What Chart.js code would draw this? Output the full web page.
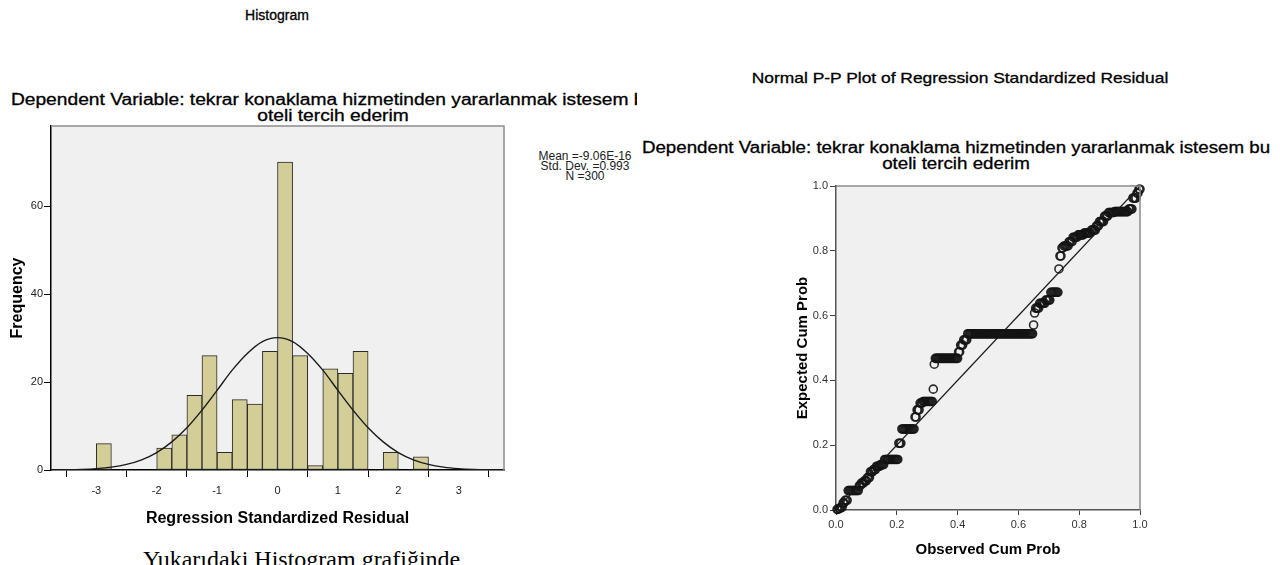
<!DOCTYPE html>
<html>
<head>
<meta charset="utf-8">
<script src="https://cdn.jsdelivr.net/npm/chart.js@4.4.0/dist/chart.umd.min.js"></script>
<style>
  html, body { margin: 0; padding: 0; background: #fff; }
  body { width: 1280px; height: 565px; position: relative; overflow: hidden;
         font-family: "Liberation Sans", Arial, sans-serif; color: #000; }
  .t { position: absolute; white-space: nowrap; text-align: center; -webkit-text-stroke: 0.3px #000; }
  .clip { position: absolute; overflow: hidden; }
  canvas { position: absolute; }
</style>
</head>
<body>

<!-- histogram titles -->
<div class="t" style="left:277px; top:7px; font-size:14px; transform:translateX(-50%);">Histogram</div>
<div class="clip" style="left:0; top:90px; width:637px; height:40px;">
  <div class="t" style="left:333px; top:2px; font-size:16px; line-height:16px; transform:translateX(-50%) scaleX(1.2);">Dependent Variable: tekrar konaklama hizmetinden yararlanmak istesem bu<br>oteli tercih ederim</div>
</div>
<div class="t" style="left:585px; top:151px; font-size:12px; line-height:10px; color:#222; -webkit-text-stroke:0; transform:translateX(-50%);">Mean =-9.06E-16<br>Std. Dev. =0.993<br>N =300</div>

<!-- P-P titles -->
<div class="t" style="left:960px; top:69px; font-size:15px; transform:translateX(-50%) scaleX(1.16);">Normal P-P Plot of Regression Standardized Residual</div>
<div class="t" style="left:956px; top:140px; font-size:16px; line-height:16px; transform:translateX(-50%) scaleX(1.17);">Dependent Variable: tekrar konaklama hizmetinden yararlanmak istesem bu<br>oteli tercih ederim</div>

<div class="t" style="left:143px; top:546px; font-family:'Liberation Serif','Times New Roman',serif; font-size:24px; text-align:left; -webkit-text-stroke:0;">Yukarıdaki Histogram grafiğinde</div>

<canvas id="hist" width="560" height="414" style="left:0; top:116px;"></canvas>
<canvas id="pp" width="420" height="385" style="left:760px; top:176px;"></canvas>

<script>
// Histogram of standardized residuals (bin width 0.25)
const binWidth = 0.25;
const binStart = [-3.0, -2.0, -1.75, -1.5, -1.25, -1.0, -0.75, -0.5, -0.25, 0.0, 0.25, 0.5, 0.75, 1.0, 1.25, 1.75, 2.25];
const binCount = [6, 5, 8, 17, 26, 4, 16, 15, 27, 70, 26, 1, 23, 22, 27, 4, 3];

// Normal curve
const curveX = [-3.75, -3.5, -3.25, -3.0, -2.75, -2.5, -2.25, -2.0, -1.75, -1.5, -1.25, -1.0, -0.75, -0.5, -0.25,
                0.0, 0.25, 0.5, 0.75, 1.0, 1.25, 1.5, 1.75, 2.0, 2.25, 2.5, 2.75, 3.0, 3.25, 3.5, 3.75];
const curveY = [0.02, 0.06, 0.14, 0.31, 0.65, 1.27, 2.31, 3.97, 6.4, 9.6, 13.6, 18.1, 22.7, 26.5, 29.2,
                30.1, 29.2, 26.5, 22.7, 18.1, 13.6, 9.6, 6.4, 3.97, 2.31, 1.27, 0.65, 0.31, 0.14, 0.06, 0.02];

// P-P plot: expected cum prob levels and how many residuals share each level
const ppTotal = 300;
const ppExpected = [0.002, 0.005, 0.008, 0.022, 0.03, 0.06, 0.075, 0.083, 0.09, 0.1, 0.118, 0.125, 0.135, 0.14,
                    0.156, 0.206, 0.25, 0.287, 0.309, 0.33, 0.335, 0.373, 0.45, 0.468, 0.488, 0.509, 0.525,
                    0.544, 0.571, 0.608, 0.623, 0.638, 0.648, 0.672, 0.744, 0.784, 0.809, 0.815, 0.828, 0.842,
                    0.849, 0.855, 0.864, 0.877, 0.89, 0.907, 0.918, 0.921, 0.929, 0.963, 0.978, 0.99];
const ppCount = [2, 2, 2, 2, 3, 11, 2, 3, 3, 3, 3, 3, 4, 4,
                 14, 3, 13, 2, 3, 3, 10, 1, 1, 23, 2, 3, 4,
                 65, 1, 1, 4, 6, 5, 8, 1, 2, 2, 5, 4, 5,
                 6, 7, 5, 3, 5, 4, 6, 14, 4, 4, 2, 2];
const refLine = [0, 1];

const tickFont = { family: 'Liberation Sans, Arial, sans-serif', size: 11 };
const titleFont = { family: 'Liberation Sans, Arial, sans-serif', size: 16, weight: 'bold' };

// grey plot background and the top/right frame lines
const plotFrame = {
    id: 'plotFrame',
    beforeDraw(chart) {
        const a = chart.chartArea;
        const ctx = chart.ctx;
        ctx.save();
        ctx.fillStyle = '#f0f0f0';
        ctx.fillRect(a.left, a.top, a.right - a.left, a.bottom - a.top);
        ctx.restore();
    },
    afterDraw(chart) {
        const a = chart.chartArea;
        const ctx = chart.ctx;
        ctx.save();
        ctx.strokeStyle = '#8c8c8c';
        ctx.lineWidth = 1.5;
        ctx.beginPath();
        ctx.moveTo(a.left, a.top);
        ctx.lineTo(a.right, a.top);
        ctx.lineTo(a.right, a.bottom);
        ctx.stroke();
        ctx.restore();
    }
};

// Histogram
const barData = binStart.map((s, i) => ({ x: s + binWidth / 2, y: binCount[i] }));
const curveData = curveX.map((x, i) => ({ x: x, y: curveY[i] }));

new Chart(document.getElementById('hist'), {
    type: 'bar',
    data: {
        datasets: [
            {
                type: 'line',
                data: curveData,
                borderColor: '#1a1a1a',
                borderWidth: 1.4,
                pointRadius: 0,
                cubicInterpolationMode: 'monotone',
                fill: false,
                order: 0
            },
            {
                data: barData,
                backgroundColor: '#d3ce98',
                borderColor: '#2a2a2a',
                borderWidth: 1,
                borderSkipped: false,
                barPercentage: 1,
                categoryPercentage: 1,
                order: 1
            }
        ]
    },
    options: {
        responsive: false,
        animation: false,
        events: [],
        layout: { padding: { top: 10, right: 56, bottom: 0, left: 0 } },
        plugins: { legend: { display: false }, tooltip: { enabled: false } },
        scales: {
            x: {
                type: 'linear',
                min: -3.75,
                max: 3.75,
                offset: false,
                afterFit: (s) => { s.height = 60; },
                grid: { drawOnChartArea: false, drawTicks: true, tickLength: 7, color: '#000' },
                border: { display: true, color: '#000', width: 1.5 },
                ticks: { stepSize: 1, includeBounds: false, font: tickFont, color: '#222', padding: 7 },
                title: { display: true, text: 'Regression Standardized Residual', font: titleFont, color: '#000',
                         padding: { top: 4, bottom: 2 } }
            },
            y: {
                min: 0,
                max: 78.2,
                afterFit: (s) => { s.width = 51; },
                grid: { drawOnChartArea: false, drawTicks: true, tickLength: 7, color: '#000' },
                border: { display: true, color: '#000', width: 1.5 },
                ticks: { stepSize: 20, includeBounds: false, font: tickFont, color: '#222', padding: 1 },
                title: { display: true, text: 'Frequency', font: titleFont, color: '#000',
                         padding: { top: 8, bottom: 0 } }
            }
        }
    },
    plugins: [plotFrame]
});

// P-P plot: observed cum prob is the running share of residuals
const ppPoints = [];
let seen = 0;
ppExpected.forEach((e, i) => {
    for (let k = 0; k < ppCount[i]; k++) {
        seen++;
        ppPoints.push({ x: seen / ppTotal, y: e });
    }
});

new Chart(document.getElementById('pp'), {
    type: 'scatter',
    data: {
        datasets: [
            {
                data: ppPoints,
                pointStyle: 'circle',
                pointRadius: 4,
                pointBorderWidth: 1.6,
                pointBorderColor: 'rgba(20,20,20,0.9)',
                pointBackgroundColor: 'rgba(0,0,0,0)',
                clip: false,
                order: 1
            },
            {
                type: 'line',
                data: refLine.map(v => ({ x: v, y: v })),
                borderColor: '#1a1a1a',
                borderWidth: 1.2,
                pointRadius: 0,
                showLine: true,
                order: 0
            }
        ]
    },
    options: {
        responsive: false,
        animation: false,
        events: [],
        layout: { padding: { top: 10, right: 40, bottom: 0, left: 0 } },
        plugins: { legend: { display: false }, tooltip: { enabled: false } },
        scales: {
            x: {
                type: 'linear',
                min: 0,
                max: 1,
                afterFit: (s) => { s.height = 51; },
                grid: { drawOnChartArea: false, drawTicks: true, tickLength: 5, color: '#444' },
                border: { display: true, color: '#555', width: 1.5 },
                ticks: { stepSize: 0.2, font: tickFont, color: '#333', padding: 3,
                         callback: (v) => v.toFixed(1) },
                title: { display: true, text: 'Observed Cum Prob', font: { ...titleFont, size: 15 }, color: '#000',
                         padding: { top: 4, bottom: 2 } }
            },
            y: {
                min: 0,
                max: 1,
                afterFit: (s) => { s.width = 76; },
                grid: { drawOnChartArea: false, drawTicks: true, tickLength: 6, color: '#444' },
                border: { display: true, color: '#555', width: 1.5 },
                ticks: { stepSize: 0.2, font: tickFont, color: '#333', padding: 2,
                         callback: (v) => v.toFixed(1) },
                title: { display: true, text: 'Expected Cum Prob', font: { ...titleFont, size: 15 }, color: '#000',
                         padding: { top: 34, bottom: 0 } }
            }
        }
    },
    plugins: [plotFrame]
});
</script>
</body>
</html>
